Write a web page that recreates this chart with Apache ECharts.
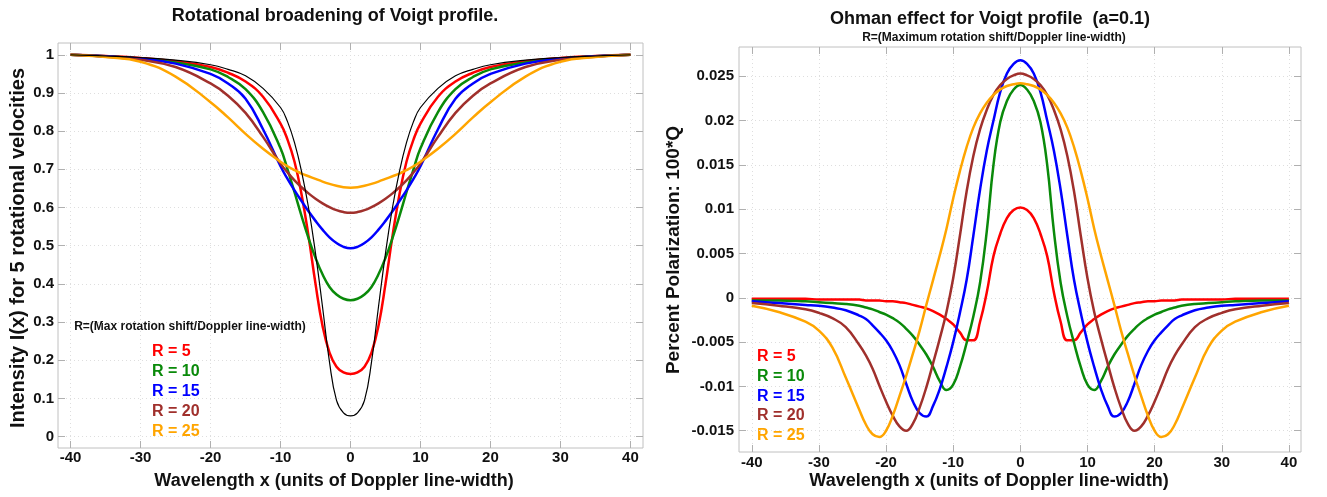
<!DOCTYPE html>
<html>
<head>
<meta charset="utf-8">
<script src="https://cdn.jsdelivr.net/npm/echarts@6/dist/echarts.min.js"></script>
<style>
  html, body { margin: 0; background: #fff; }
  #chart { width: 1327px; height: 497px; }
</style>
</head>
<body>
<div id="chart"></div>
<script>
// ---- left panel: rotational broadening (intensity) ----
const xLeft = [-40, -35, -30, -25, -20, -17.5, -15, -12.5, -10, -9, -8, -7, -6, -5, -4, -3, -2, -1, 0,
  1, 2, 3, 4, 5, 6, 7, 8, 9, 10, 12.5, 15, 17.5, 20, 25, 30, 35, 40]
const intensityVoigt = [1.0, 0.997, 0.993, 0.986, 0.974, 0.962, 0.945, 0.912, 0.862, 0.825, 0.77, 0.695, 0.60, 0.48, 0.34, 0.195, 0.095, 0.062, 0.054,
  0.062, 0.095, 0.195, 0.34, 0.48, 0.60, 0.695, 0.77, 0.825, 0.862, 0.912, 0.945, 0.962, 0.974, 0.986, 0.993, 0.997, 1.0]
const intensityR5 = [1.0, 0.997, 0.992, 0.983, 0.968, 0.953, 0.93, 0.89, 0.82, 0.778, 0.72, 0.635, 0.525, 0.40, 0.29, 0.22, 0.183, 0.168, 0.164,
  0.168, 0.183, 0.22, 0.29, 0.40, 0.525, 0.635, 0.72, 0.778, 0.82, 0.89, 0.93, 0.953, 0.968, 0.983, 0.992, 0.997, 1.0]
const intensityR10 = [1.0, 0.996, 0.99, 0.98, 0.962, 0.942, 0.91, 0.85, 0.755, 0.70, 0.64, 0.578, 0.52, 0.468, 0.425, 0.392, 0.372, 0.361, 0.357,
  0.361, 0.372, 0.392, 0.425, 0.468, 0.52, 0.578, 0.64, 0.70, 0.755, 0.85, 0.91, 0.942, 0.962, 0.98, 0.99, 0.996, 1.0]
const intensityR15 = [1.0, 0.996, 0.99, 0.977, 0.95, 0.925, 0.885, 0.805, 0.708, 0.675, 0.645, 0.617, 0.59, 0.565, 0.542, 0.522, 0.507, 0.497, 0.493,
  0.497, 0.507, 0.522, 0.542, 0.565, 0.59, 0.617, 0.645, 0.675, 0.708, 0.805, 0.885, 0.925, 0.95, 0.977, 0.99, 0.996, 1.0]
const intensityR20 = [1.0, 0.995, 0.987, 0.968, 0.925, 0.893, 0.848, 0.785, 0.715, 0.692, 0.671, 0.653, 0.637, 0.623, 0.611, 0.601, 0.593, 0.588, 0.586,
  0.588, 0.593, 0.601, 0.611, 0.623, 0.637, 0.653, 0.671, 0.692, 0.715, 0.785, 0.848, 0.893, 0.925, 0.968, 0.987, 0.995, 1.0]
const intensityR25 = [1.0, 0.994, 0.982, 0.943, 0.876, 0.836, 0.793, 0.754, 0.72, 0.708, 0.698, 0.689, 0.682, 0.675, 0.668, 0.662, 0.657, 0.653, 0.652,
  0.653, 0.657, 0.662, 0.668, 0.675, 0.682, 0.689, 0.698, 0.708, 0.72, 0.754, 0.793, 0.836, 0.876, 0.943, 0.982, 0.994, 1.0]

// ---- right panel: Ohman effect (100*Q) ----
const xRight = [-40, -36, -32, -30, -28, -26, -24, -23, -22, -21, -20, -19, -18, -17, -16, -15, -14, -13, -12, -11, -10,
  -9, -8, -7, -6, -5, -4, -3, -2, -1, 0, 1, 2, 3, 4, 5, 6, 7, 8, 9,
  10, 11, 12, 13, 14, 15, 16, 17, 18, 19, 20, 21, 22, 23, 24, 26, 28, 30, 32, 36, 40]
const polR5 = [-0.0001, -0.0001, -0.0001, -0.0002, -0.0002, -0.0002, -0.0002, -0.0003, -0.0003, -0.0003, -0.0004,
  -0.0004, -0.0005, -0.0006, -0.0008, -0.0010, -0.0012, -0.0015, -0.0019, -0.0024, -0.0030,
  -0.0039, -0.0048, -0.0048, -0.0027, 0.0006, 0.0047, 0.0072, 0.0090, 0.0099, 0.0102,
  0.0099, 0.0090, 0.0072, 0.0047, 0.0006, -0.0027, -0.0048, -0.0048, -0.0039,
  -0.0030, -0.0024, -0.0019, -0.0015, -0.0012, -0.0010, -0.0008, -0.0006, -0.0005, -0.0004, -0.0004,
  -0.0003, -0.0003, -0.0003, -0.0002, -0.0002, -0.0002, -0.0002, -0.0001, -0.0001, -0.0001]
const polR10 = [-0.0003, -0.0003, -0.0004, -0.0005, -0.0006, -0.0007, -0.0009, -0.0011, -0.0013, -0.0016, -0.0019,
  -0.0023, -0.0028, -0.0035, -0.0043, -0.0053, -0.0064, -0.0078, -0.0094, -0.0104, -0.0098,
  -0.0078, -0.0051, -0.0021, 0.0017, 0.0075, 0.0150, 0.0198, 0.0222, 0.0235, 0.0240,
  0.0235, 0.0222, 0.0198, 0.0150, 0.0075, 0.0017, -0.0021, -0.0051, -0.0078,
  -0.0098, -0.0104, -0.0094, -0.0078, -0.0064, -0.0053, -0.0043, -0.0035, -0.0028, -0.0023, -0.0019,
  -0.0016, -0.0013, -0.0011, -0.0009, -0.0007, -0.0006, -0.0005, -0.0004, -0.0003, -0.0003]
const polR15 = [-0.0004, -0.0006, -0.0008, -0.0009, -0.0011, -0.0014, -0.0020, -0.0024, -0.0031, -0.0039, -0.0048,
  -0.0060, -0.0076, -0.0097, -0.0117, -0.0130, -0.0134, -0.0122, -0.0103, -0.0078, -0.0050,
  -0.0017, 0.0020, 0.0070, 0.0122, 0.0166, 0.0200, 0.0232, 0.0253, 0.0264, 0.0268,
  0.0264, 0.0253, 0.0232, 0.0200, 0.0166, 0.0122, 0.0070, 0.0020, -0.0017,
  -0.0050, -0.0078, -0.0103, -0.0122, -0.0134, -0.0130, -0.0117, -0.0097, -0.0076, -0.0060, -0.0048,
  -0.0039, -0.0031, -0.0024, -0.0020, -0.0014, -0.0011, -0.0009, -0.0008, -0.0006, -0.0004]
const polR20 = [-0.0006, -0.0009, -0.0013, -0.0017, -0.0023, -0.0033, -0.0053, -0.0065, -0.0080, -0.0099, -0.0117,
  -0.0133, -0.0145, -0.0150, -0.0142, -0.0124, -0.0101, -0.0074, -0.0046, -0.0016, 0.0022,
  0.0070, 0.0120, 0.0160, 0.0190, 0.0212, 0.0229, 0.0240, 0.0247, 0.0251, 0.0253,
  0.0251, 0.0247, 0.0240, 0.0229, 0.0212, 0.0190, 0.0160, 0.0120, 0.0070,
  0.0022, -0.0016, -0.0046, -0.0074, -0.0101, -0.0124, -0.0142, -0.0150, -0.0145, -0.0133, -0.0117,
  -0.0099, -0.0080, -0.0065, -0.0053, -0.0033, -0.0023, -0.0017, -0.0013, -0.0009, -0.0006]
const polR25 = [-0.0009, -0.0016, -0.0027, -0.0037, -0.0056, -0.0090, -0.0126, -0.0143, -0.0154, -0.0157, -0.0150,
  -0.0133, -0.0111, -0.0088, -0.0063, -0.0037, -0.0008, 0.0020, 0.0048, 0.0078, 0.0112,
  0.0143, 0.0170, 0.0192, 0.0208, 0.0220, 0.0229, 0.0235, 0.0239, 0.0241, 0.0242,
  0.0241, 0.0239, 0.0235, 0.0229, 0.0220, 0.0208, 0.0192, 0.0170, 0.0143,
  0.0112, 0.0078, 0.0048, 0.0020, -0.0008, -0.0037, -0.0063, -0.0088, -0.0111, -0.0133, -0.0150,
  -0.0157, -0.0154, -0.0143, -0.0126, -0.0090, -0.0056, -0.0037, -0.0027, -0.0016, -0.0009]

// ---- ticks ----
const xTicks = [-40, -30, -20, -10, 0, 10, 20, 30, 40]
const yTicksLeft = [0, 0.1, 0.2, 0.3, 0.4, 0.5, 0.6, 0.7, 0.8, 0.9, 1]
const yTicksRight = [-0.015, -0.01, -0.005, 0, 0.005, 0.01, 0.015, 0.02, 0.025]

const legendLabels = ['R = 5', 'R = 10', 'R = 15', 'R = 20', 'R = 25']
const colors = ['#ff0000', '#0a8a0a', '#0000ff', '#a0302c', '#ffa500']

const FONT = '"Liberation Sans", Arial, sans-serif'
const TICK_COLOR = '#b0b0b0'

function pairs(xs, ys) {
  return xs.map((x, i) => [x, ys[i]])
}

function mainAxis(gridIndex, min, max, ticks, margin) {
  return {
    type: 'value',
    gridIndex,
    min,
    max,
    axisLine: { show: false, onZero: false },
    axisTick: { inside: true, length: 7, customValues: ticks, lineStyle: { color: TICK_COLOR } },
    axisLabel: {
      customValues: ticks,
      margin,
      color: '#111',
      fontFamily: FONT,
      fontWeight: 'bold',
      fontSize: 15,
      formatter: (v) => String(parseFloat(Number(v).toFixed(4)))
    },
    splitLine: { show: true, lineStyle: { color: '#dedede', width: 1, type: [1, 3] } }
  }
}

function mirrorAxis(gridIndex, min, max, ticks, position) {
  return {
    type: 'value',
    gridIndex,
    position,
    min,
    max,
    axisLine: { show: false, onZero: false },
    axisTick: { inside: true, length: 7, customValues: ticks, lineStyle: { color: TICK_COLOR } },
    axisLabel: { show: false },
    splitLine: { show: false }
  }
}

function lineSeries(name, xs, ys, color, width, xi, yi) {
  return {
    name,
    type: 'line',
    xAxisIndex: xi,
    yAxisIndex: yi,
    data: pairs(xs, ys),
    smooth: 0.45,
    showSymbol: false,
    symbol: 'none',
    lineStyle: { color, width },
    emphasis: { disabled: true }
  }
}

function text(x, y, str, size, color, extra) {
  return Object.assign({
    type: 'text',
    x,
    y,
    style: {
      text: str,
      fill: color || '#111',
      fontFamily: FONT,
      fontWeight: 'bold',
      fontSize: size,
      align: 'center',
      verticalAlign: 'middle'
    }
  }, extra || {})
}

const chart = echarts.init(document.getElementById('chart'))

const leftSeries = [intensityR5, intensityR10, intensityR15, intensityR20, intensityR25]
const rightSeries = [polR5, polR10, polR15, polR20, polR25]

const series = []
leftSeries.forEach((ys, i) => series.push(lineSeries(legendLabels[i], xLeft, ys, colors[i], 2.5, 0, 0)))
series.push(lineSeries('Voigt', xLeft, intensityVoigt, '#000', 1.2, 0, 0))
rightSeries.forEach((ys, i) => series.push(lineSeries(legendLabels[i], xRight, ys, colors[i], 2.5, 2, 2)))

const graphic = [
  text(335, 16, 'Rotational broadening of Voigt profile.', 18),
  text(334, 481, 'Wavelength x (units of Doppler line-width)', 18),
  text(18, 248, 'Intensity I(x) for 5 rotational velocities', 20, '#111', { rotation: Math.PI / 2 }),
  text(190, 327, 'R=(Max rotation shift/Doppler line-width)', 12),
  text(990, 19, 'Ohman effect for Voigt profile  (a=0.1)', 18),
  text(994, 38, 'R=(Maximum rotation shift/Doppler line-width)', 12),
  text(989, 481, 'Wavelength x (units of Doppler line-width)', 18),
  text(674, 250, 'Percent Polarization: 100*Q', 19, '#111', { rotation: Math.PI / 2 })
]
legendLabels.forEach((lab, i) => {
  graphic.push(text(152, 352 + i * 19.8, lab, 16, colors[i], {}))
  graphic[graphic.length - 1].style.align = 'left'
  graphic.push(text(757, 357 + i * 19.6, lab, 16, colors[i], {}))
  graphic[graphic.length - 1].style.align = 'left'
})

const option = {
  animation: false,
  backgroundColor: '#fff',
  grid: [
    { left: 58, top: 43, width: 585, height: 405, show: true, borderColor: '#c0c0c0', borderWidth: 1 },
    { left: 739, top: 47, width: 562, height: 405, show: true, borderColor: '#c0c0c0', borderWidth: 1 }
  ],
  xAxis: [
    mainAxis(0, -41.8, 41.8, xTicks, 2),
    mirrorAxis(0, -41.8, 41.8, xTicks, 'top'),
    mainAxis(1, -41.9, 41.8, xTicks, 3),
    mirrorAxis(1, -41.9, 41.8, xTicks, 'top')
  ],
  yAxis: [
    mainAxis(0, -0.030, 1.031, yTicksLeft, 4),
    mirrorAxis(0, -0.030, 1.031, yTicksLeft, 'right'),
    mainAxis(1, -0.0174, 0.0283, yTicksRight, 5),
    mirrorAxis(1, -0.0174, 0.0283, yTicksRight, 'right')
  ],
  graphic,
  series
}

chart.setOption(option)
window.addEventListener('resize', () => chart.resize())
</script>
</body>
</html>
